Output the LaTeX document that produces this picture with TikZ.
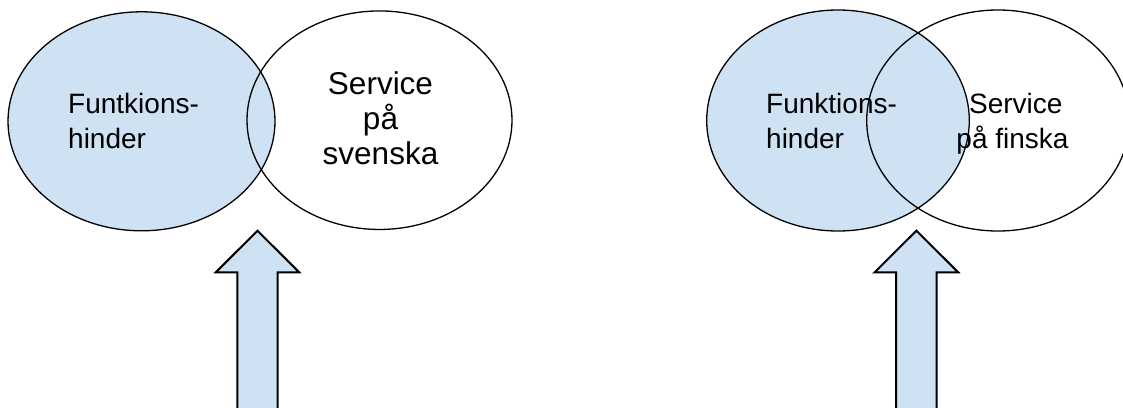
\documentclass[tikz,border=0pt]{standalone}
\usepackage{fontspec}
\setmainfont{Liberation Sans}
\usetikzlibrary{shapes.geometric}
\definecolor{paleblue}{HTML}{CFE2F3}
\tikzset{
  set/.style={ellipse, draw=black, line width=1.3pt, inner sep=0pt},
  filledset/.style={set, fill=paleblue},
  label28/.style={inner sep=0pt, font=\fontsize{28}{35}\selectfont},
  label32/.style={inner sep=0pt, font=\fontsize{31.5}{35}\selectfont},
  blockarrow/.style={draw=black, fill=paleblue, line width=2pt, line join=miter}
}
\begin{document}
\begin{tikzpicture}[x=1pt, y=-1pt]
  \useasboundingbox (0,0) rectangle (1123,407);
  \clip (0,0) rectangle (1123,407);

  % left pair: disability vs. service in Swedish
  \node[filledset, minimum width=267pt, minimum height=219pt] (hinderA) at (141.5,121.3) {};
  \node[set, minimum width=265pt, minimum height=218.5pt] (svenska) at (379.5,120.2) {};

  \node[label28, anchor=base west] (hinderAone) at (68,113.3) {Funtkions-};
  \node[label28, anchor=base west] (hinderAtwo) at (68,148.3) {hinder};
  \node[label32, anchor=base] (sveone) at (380.5,94.8) {Service};
  \node[label32, anchor=base] (svetwo) at (380.5,129.5) {på};
  \node[label32, anchor=base] (svethree) at (380.5,164.5) {svenska};

  % right pair: disability vs. service in Finnish
  \node[filledset, minimum width=262.6pt, minimum height=221pt] (hinderB) at (838,120.5) {};
  \node[set, minimum width=262.6pt, minimum height=221pt] (finska) at (998,120.5) {};

  \node[label28, anchor=base west] (hinderBone) at (766,113.3) {Funktions-};
  \node[label28, anchor=base west] (hinderBtwo) at (766,148.3) {hinder};
  \node[label28, anchor=base] (finone) at (1015.8,113.5) {Service};
  \node[label28, anchor=base] (fintwo) at (1012.5,148.5) {på finska};

  % block arrows pointing up at the overlaps
  \coordinate (tipA) at (257.5,230.7);
  \coordinate (tipB) at (916.4,230.7);
  \draw[blockarrow] (tipA) -- ++(41.7,41.6) -- ++(-21.5,0) -- ++(0,150)
     -- ++(-40.4,0) -- ++(0,-150) -- ++(-21.5,0) -- cycle;
  \draw[blockarrow] (tipB) -- ++(41.8,41.6) -- ++(-21.5,0) -- ++(0,150)
     -- ++(-40.6,0) -- ++(0,-150) -- ++(-21.5,0) -- cycle;
\end{tikzpicture}
\end{document}
